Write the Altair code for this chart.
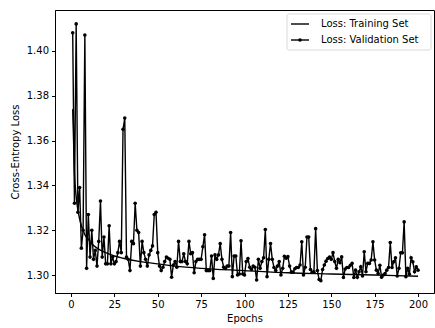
import altair as alt
import pandas as pd

# ---------------- data ----------------
epochs = list(range(1, 201))
val_loss = [
    1.408, 1.332, 1.412, 1.328, 1.339, 1.312, 1.320, 1.407, 1.303, 1.327,
    1.308, 1.320, 1.307, 1.311, 1.304, 1.315, 1.333, 1.308, 1.317, 1.305,
    1.305, 1.322, 1.305, 1.308, 1.305, 1.306, 1.310, 1.315, 1.310, 1.365,
    1.370, 1.308, 1.307, 1.302, 1.315, 1.314, 1.332, 1.320, 1.319, 1.304,
    1.315, 1.310, 1.307, 1.304, 1.309, 1.311, 1.313, 1.327, 1.328, 1.310,
    1.304, 1.302, 1.3035, 1.306, 1.308, 1.3075, 1.307, 1.299, 1.3045, 1.306,
    1.3035, 1.315, 1.306, 1.306, 1.3095, 1.306, 1.305, 1.315, 1.3095, 1.310,
    1.301, 1.306, 1.307, 1.307, 1.307, 1.3126, 1.318, 1.302, 1.302, 1.302,
    1.3085, 1.2985, 1.309, 1.307, 1.309, 1.314, 1.307, 1.3035, 1.303, 1.304,
    1.304, 1.319, 1.2993, 1.3085, 1.3085, 1.300, 1.3005, 1.3153, 1.3005, 1.300,
    1.306, 1.3074, 1.3035, 1.3025, 1.304, 1.3035, 1.2978, 1.307, 1.303, 1.306,
    1.3077, 1.3203, 1.2993, 1.307, 1.3141, 1.307, 1.3034, 1.302, 1.304, 1.306,
    1.300, 1.303, 1.3084, 1.3075, 1.3082, 1.304, 1.3013, 1.3013, 1.3028, 1.3034,
    1.3034, 1.3045, 1.3148, 1.300, 1.3035, 1.317, 1.317, 1.3025, 1.3013, 1.3013,
    1.3207, 1.302, 1.298, 1.2975, 1.3025, 1.3045, 1.3062, 1.3074, 1.308, 1.307,
    1.310, 1.306, 1.303, 1.307, 1.3055, 1.3081, 1.2989, 1.3027, 1.3034, 1.3034,
    1.3044, 1.3052, 1.2989, 1.3022, 1.299, 1.3015, 1.3037, 1.2996, 1.3104, 1.3015,
    1.3052, 1.3052, 1.3067, 1.3148, 1.3067, 1.3022, 1.3007, 1.3044, 1.299, 1.300,
    1.3007, 1.3022, 1.3034, 1.3145, 1.3034, 1.3059, 1.3077, 1.2996, 1.303, 1.3099,
    1.3099, 1.3237, 1.2993, 1.303, 1.3004, 1.3077, 1.3059, 1.3015, 1.3037, 1.3022,
]
train_epochs = [1, 2, 3, 4, 5, 6, 7, 8, 10, 12, 15, 20, 25, 30, 40, 50, 60, 75,
                100, 125, 150, 175, 200]
train_loss = [1.374, 1.346, 1.335, 1.329, 1.325, 1.322, 1.320, 1.318, 1.316,
              1.314, 1.312, 1.310, 1.3085, 1.3075, 1.306, 1.305, 1.304, 1.303,
              1.302, 1.301, 1.3005, 1.300, 1.2995]
x_ticks = [0, 25, 50, 75, 100, 125, 150, 175, 200]
y_ticks = [1.30, 1.32, 1.34, 1.36, 1.38, 1.40]
legend_labels = ["Loss: Training Set", "Loss: Validation Set"]
legend_marker = [0, 1]

val_df = pd.DataFrame({"epoch": epochs, "loss": val_loss})
train_df = pd.DataFrame({"epoch": train_epochs, "loss": train_loss})
legend_df = pd.DataFrame({"label": legend_labels, "marker": legend_marker})

FONT = "DejaVu Sans"

x_enc = alt.X(
    "epoch:Q",
    scale=alt.Scale(domain=[-9.2, 209.2], nice=False, zero=False),
    axis=alt.Axis(values=x_ticks, title="Epochs", format="d"),
)
y_enc = alt.Y(
    "loss:Q",
    scale=alt.Scale(domain=[1.2920, 1.4182], nice=False, zero=False),
    axis=alt.Axis(values=y_ticks, format=".2f", title="Cross-Entropy Loss"),
)

train_line = alt.Chart(train_df).mark_line(
    color="black", strokeWidth=1.4, interpolate="monotone", clip=True
).encode(x=x_enc, y=y_enc)

val_line = alt.Chart(val_df).mark_line(
    color="black", strokeWidth=1.4, clip=True
).encode(x=x_enc, y=y_enc)

val_pts = alt.Chart(val_df).mark_circle(
    color="black", size=13, opacity=1, clip=True
).encode(x=x_enc, y=y_enc)

main = alt.layer(train_line, val_line, val_pts)

# ---------------- legend ----------------
ly = alt.Y(
    "label:N",
    scale=alt.Scale(type="point", domain=legend_labels, range=[14, 30], padding=0),
    axis=None,
)
box = alt.Chart(legend_df.head(1)).mark_rect(
    fill="white", stroke="#cccccc", strokeWidth=0.8, cornerRadius=2, opacity=0.9
).encode(x=alt.value(232), x2=alt.value(376), y=alt.value(4), y2=alt.value(40))
leg_rule = alt.Chart(legend_df).mark_rule(color="black", strokeWidth=1.4).encode(
    x=alt.value(236), x2=alt.value(254), y=ly
)
leg_pt = alt.Chart(legend_df).mark_circle(color="black", size=13, opacity=1).encode(
    x=alt.value(245), y=ly
).transform_filter("datum.marker == 1")
leg_text = alt.Chart(legend_df).mark_text(
    align="left", baseline="middle", font=FONT, fontSize=10, color="black"
).encode(x=alt.value(266), y=ly, text="label:N")

legend = alt.layer(box, leg_rule, leg_pt, leg_text)

chart = alt.layer(main, legend).resolve_scale(y="independent").properties(
    width=379,
    height=283,
    autosize=alt.AutoSizeParams(type="none"),
    padding={"left": 55, "top": 10, "right": 1, "bottom": 35},
).configure_view(
    stroke="black", strokeWidth=1
).configure_axis(
    grid=False,
    labelFont=FONT,
    titleFont=FONT,
    labelFontSize=10,
    titleFontSize=10,
    titleFontWeight="normal",
    labelColor="black",
    titleColor="black",
    tickColor="black",
    domainColor="black",
    domainWidth=1,
    tickWidth=1,
    tickSize=3.5,
    labelPadding=3,
).configure_axisY(
    titlePadding=6,
).configure_axisX(
    titlePadding=4,
)

chart.save("out.html", embed_options={"renderer": "svg", "actions": False})
